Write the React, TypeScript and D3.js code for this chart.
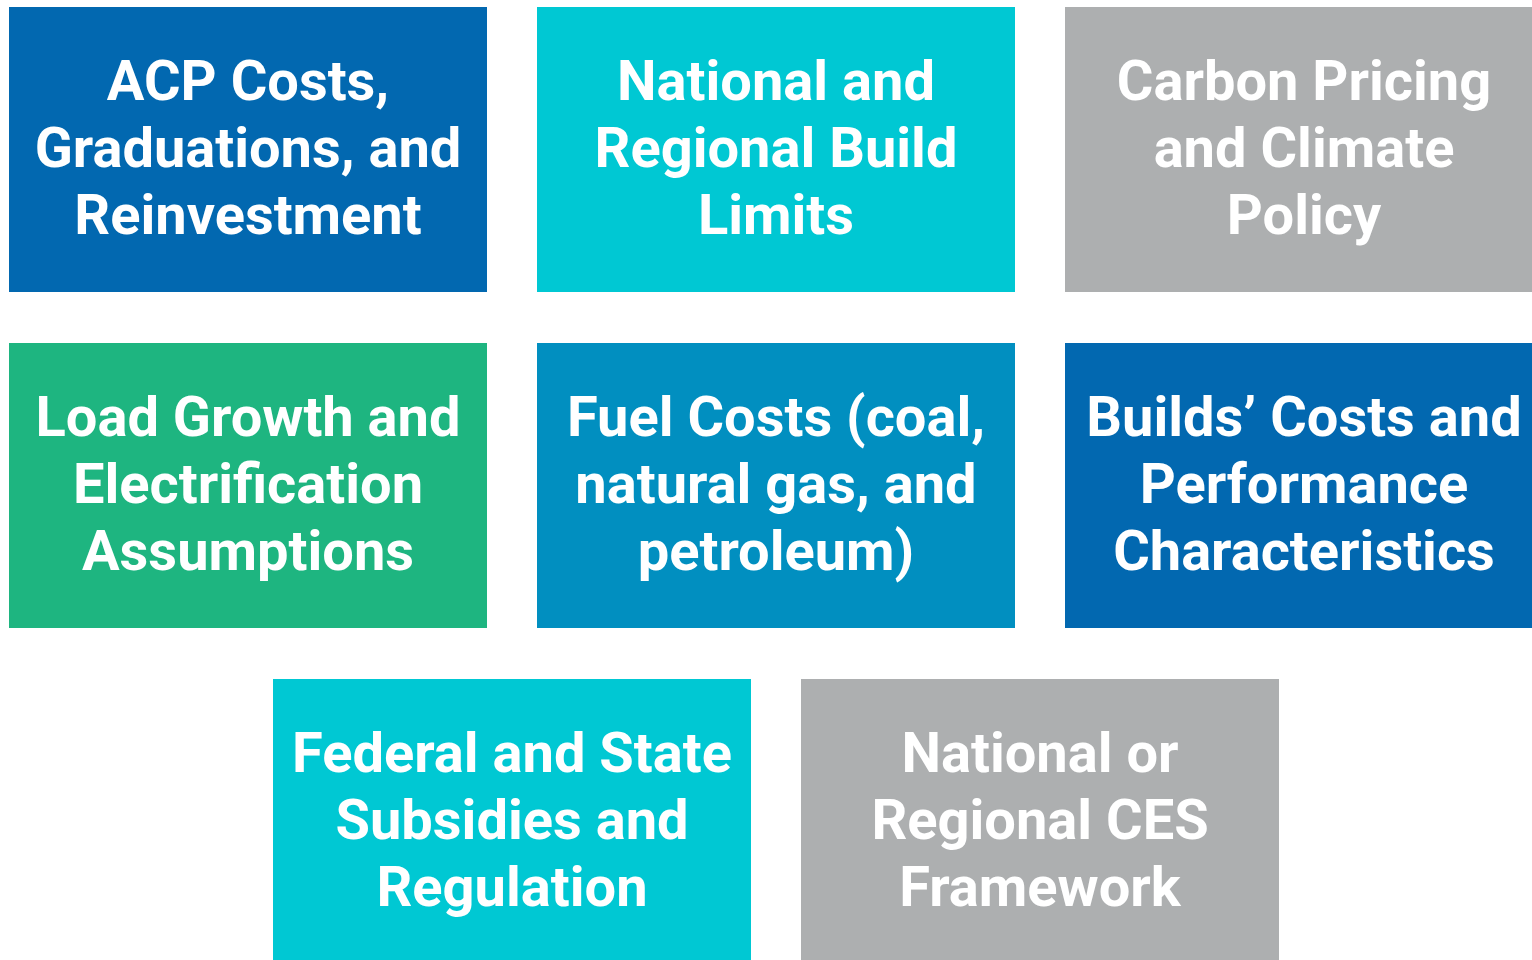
import React from 'react'
import * as d3 from 'd3'

// box labels, one entry per line of text
const labels: string[][] = [
  ['ACP Costs,', 'Graduations, and', 'Reinvestment'],
  ['National and', 'Regional Build', 'Limits'],
  ['Carbon Pricing', 'and Climate', 'Policy'],
  ['Load Growth and', 'Electrification', 'Assumptions'],
  ['Fuel Costs (coal,', 'natural gas, and', 'petroleum)'],
  ['Builds\u2019 Costs and', 'Performance', 'Characteristics'],
  ['Federal and State', 'Subsidies and', 'Regulation'],
  ['National or', 'Regional CES', 'Framework'],
]

const groups = ['blue', 'cyan', 'gray', 'green', 'teal', 'blue', 'cyan', 'gray']

const palette: Record<string, string> = {
  blue: '#0268b0',
  cyan: '#00c8d3',
  gray: '#adafb0',
  green: '#1eb580',
  teal: '#018fc0',
}

const perRow = 3

export default function App() {
  const width = 1532
  const height = 960

  const x = d3.scaleLinear().domain([0, 1]).range([9, 537])
  const y = d3.scaleLinear().domain([0, 1]).range([7, 343])
  const boxW = 478
  const boxH = 285
  const lineH = 67
  const fontSize = 56

  const cells = labels.map((lines, i) => {
    const row = Math.floor(i / perRow)
    const inRow = Math.min(perRow, labels.length - row * perRow)
    const col = (perRow - inRow) / 2 + (i % perRow)
    return { lines, row, col, color: palette[groups[i]] }
  })

  return (
    <div style={{ position: 'absolute', left: 0, top: 0, width, height, overflow: 'hidden', background: '#fff' }}>
      <svg width={width} height={height} style={{ display: 'block' }}>
        {cells.map((c, i) => {
          const bx = x(c.col)
          const by = y(c.row)
          const cx = bx + boxW / 2
          const cy = by + boxH / 2
          const first = 17 - ((c.lines.length - 1) / 2) * lineH
          return (
            <g key={i}>
              <rect x={bx} y={by} width={boxW} height={boxH} fill={c.color} />
              <g transform={`translate(${cx},${cy})`}>
                {c.lines.map((t, j) => (
                  <text
                    key={j}
                    x={0}
                    y={first + j * lineH}
                    textAnchor="middle"
                    fill="#fff"
                    fontFamily="Roboto, 'Open Sans', sans-serif"
                    fontWeight="bold"
                    fontSize={fontSize}
                  >
                    {t}
                  </text>
                ))}
              </g>
            </g>
          )
        })}
      </svg>
    </div>
  )
}
